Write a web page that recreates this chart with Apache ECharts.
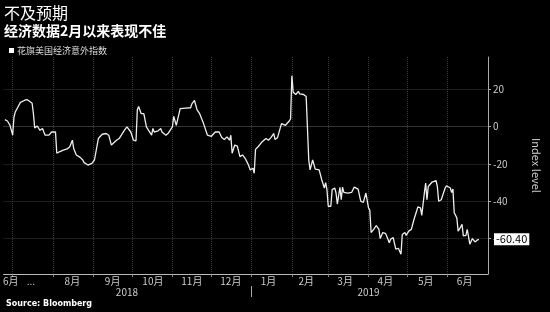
<!DOCTYPE html>
<html><head><meta charset="utf-8">
<script src="https://cdn.jsdelivr.net/npm/echarts@6/dist/echarts.min.js"></script>
<style>html,body{margin:0;padding:0;background:#000;}#c{width:550px;height:312px;}</style>
</head><body><div id="c"></div>
<script>
const titleText = '不及预期';
const subtitleText = '经济数据2月以来表现不佳';
const seriesName = '花旗美国经济意外指数';
const sourceText = 'Source: Bloomberg';
const axisName = 'Index level';

const dates = [
 '2018-06-25','2018-06-27','2018-06-29','2018-07-01','2018-07-02','2018-07-03','2018-07-05','2018-07-07','2018-07-10','2018-07-12',
 '2018-07-14','2018-07-16','2018-07-17','2018-07-18','2018-07-20','2018-07-21','2018-07-22','2018-07-24','2018-07-25','2018-07-26',
 '2018-07-27','2018-07-29','2018-07-31','2018-08-01','2018-08-03','2018-08-04','2018-08-06','2018-08-09','2018-08-12','2018-08-14',
 '2018-08-16','2018-08-17','2018-08-19','2018-08-22','2018-08-24','2018-08-25','2018-08-28','2018-08-31','2018-09-02','2018-09-03',
 '2018-09-05','2018-09-08','2018-09-11','2018-09-13','2018-09-15','2018-09-19','2018-09-21','2018-09-25','2018-09-27','2018-09-30',
 '2018-10-02','2018-10-04','2018-10-05','2018-10-06','2018-10-08','2018-10-10','2018-10-12','2018-10-13','2018-10-16','2018-10-17',
 '2018-10-18','2018-10-21','2018-10-23','2018-10-24','2018-10-27','2018-10-29','2018-11-01','2018-11-02','2018-11-04','2018-11-07',
 '2018-11-11','2018-11-15','2018-11-16','2018-11-18','2018-11-20','2018-11-22','2018-11-25','2018-11-28','2018-12-01','2018-12-04',
 '2018-12-07','2018-12-09','2018-12-11','2018-12-13','2018-12-15','2018-12-16','2018-12-17','2018-12-19','2018-12-21','2018-12-23',
 '2018-12-25','2018-12-27','2018-12-29','2018-12-31','2019-01-02','2019-01-03','2019-01-04','2019-01-06','2019-01-09','2019-01-12',
 '2019-01-14','2019-01-16','2019-01-18','2019-01-19','2019-01-21','2019-01-22','2019-01-24','2019-01-25','2019-01-27','2019-01-28',
 '2019-01-30','2019-01-31','2019-02-01','2019-02-02','2019-02-04','2019-02-06','2019-02-07','2019-02-10','2019-02-12','2019-02-13',
 '2019-02-14','2019-02-15','2019-02-17','2019-02-19','2019-02-22','2019-02-24','2019-02-26','2019-02-27','2019-02-28','2019-03-01',
 '2019-03-03','2019-03-04','2019-03-06','2019-03-07','2019-03-08','2019-03-10','2019-03-11','2019-03-12','2019-03-13','2019-03-16',
 '2019-03-19','2019-03-21','2019-03-24','2019-03-26','2019-03-28','2019-03-30','2019-04-01','2019-04-02','2019-04-03','2019-04-05',
 '2019-04-07','2019-04-09','2019-04-10','2019-04-12','2019-04-14','2019-04-15','2019-04-17','2019-04-18','2019-04-20','2019-04-22',
 '2019-04-24','2019-04-26','2019-04-27','2019-04-29','2019-04-30','2019-05-02','2019-05-04','2019-05-06','2019-05-08','2019-05-09',
 '2019-05-11','2019-05-12','2019-05-14','2019-05-15','2019-05-16','2019-05-17','2019-05-20','2019-05-23','2019-05-24','2019-05-25',
 '2019-05-27','2019-05-30','2019-05-31','2019-06-03','2019-06-04','2019-06-05','2019-06-06','2019-06-08','2019-06-09','2019-06-11',
 '2019-06-12','2019-06-13','2019-06-15','2019-06-16','2019-06-17','2019-06-18','2019-06-20','2019-06-22','2019-06-24','2019-06-25'
];
const values = [
 3.7, 3.0, 0.7, -4.6, 5.0, 7.8, 10.4, 13.0, 14.0, 14.5,
 13.6, 12.5, 6.9, -0.7, 0.3, -0.2, -2.0, -1.0, -2.9, -4.6,
 -4.1, -4.6, -2.9, -2.3, -2.9, -14.3, -13.5, -12.6, -12.0, -10.8,
 -7.3, -11.7, -15.2, -16.5, -17.9, -19.3, -20.6, -19.7, -17.9, -17.5,
 -6.4, -4.1, -3.7, -4.6, -9.9, -7.3, -6.4, -2.0, -0.2, -2.9,
 -7.3, -7.6, 9.0, 10.8, 6.9, 6.9, -0.2, -1.0, -4.6, -1.0,
 -2.9, -2.3, -1.0, -2.9, -4.6, -3.4, -0.2, 5.5, 0.7, 9.6,
 9.9, 10.1, 12.2, 14.0, 9.0, 6.9, 1.6, -4.6, -5.2, -2.9,
 -2.9, -5.8, -6.9, -5.5, -7.3, -4.6, -14.3, -9.9, -10.5, -16.1,
 -15.2, -17.0, -19.7, -23.2, -22.3, -25.0, -12.2, -10.8, -8.2, -6.4,
 -7.3, -5.8, -3.7, -6.9, -5.8, -6.0, 1.6, 2.4, 0.7, -0.2,
 3.0, 4.2, 27.3, 18.4, 17.2, 18.9, 17.5, 17.2, 16.1, 15.4,
 -17.9, -23.2, -17.9, -22.8, -23.2, -28.5, -32.9, -30.0, -33.8, -42.7,
 -42.7, -33.8, -32.9, -35.6, -41.5, -32.5, -39.2, -32.4, -35.3, -35.6,
 -35.3, -32.4, -33.5, -40.0, -40.6, -35.6, -43.6, -44.8, -56.8, -55.1,
 -53.0, -55.1, -60.0, -56.8, -57.2, -58.6, -62.2, -60.4, -59.5, -65.7,
 -65.2, -68.4, -57.8, -56.8, -58.3, -56.0, -55.1, -49.8, -45.4, -43.0,
 -43.6, -47.6, -35.6, -30.3, -39.2, -32.1, -29.7, -29.0, -32.1, -40.0,
 -39.2, -32.9, -31.7, -32.9, -35.3, -33.5, -46.2, -48.9, -56.0, -53.7,
 -52.4, -58.6, -58.3, -55.1, -59.0, -63.0, -60.0, -61.8, -60.7, -60.40
];

const yTicks = [-60, -40, -20, 0, 20];
const monthStarts = ['2018-07-01','2018-08-01','2018-09-01','2018-10-01','2018-11-01','2018-12-01',
  '2019-01-01','2019-02-01','2019-03-01','2019-04-01','2019-05-01','2019-06-01'];
const monthLabelDates = ['2018-06-29 12','2018-07-15','2018-08-16','2018-09-16','2018-10-17','2018-11-16','2018-12-16',
  '2019-01-14','2019-02-12','2019-03-14','2019-04-14','2019-05-15','2019-06-14'];
const monthLabels = ['6月','...','8月','9月','10月','11月','12月','1月','2月','3月','4月','5月','6月'];
const yearLabelDates = ['2018-09-27','2019-04-01'];
const yearLabels = ['2018','2019'];
const yearBreaks = ['2019-01-01'];
const xMin = '2018-06-24';
const xMax = '2019-07-02';

function ts(s) {
  const p = s.split(/[- ]/).map(Number);
  return new Date(p[0], p[1] - 1, p[2], p[3] || 0).getTime();
}
function lookup(list, labels) {
  const t = list.map(ts);
  return function (v) {
    for (let i = 0; i < t.length; i++) if (Math.abs(t[i] - v) < 3600000) return labels[i];
    return '';
  };
}

const data = dates.map((d, i) => [ts(d), values[i]]);
const last = values[values.length - 1];
const CJK = '"Noto Sans CJK SC", "Noto Sans", sans-serif';
const grid = '#3a3a3a';
const ySplitColors = yTicks.map(v => v === 0 ? '#6a6a6a' : grid);

const chart = echarts.init(document.getElementById('c'), null, {renderer: 'canvas'});
chart.setOption({
  backgroundColor: '#000',
  animation: false,
  textStyle: {fontFamily: CJK},
  title: [
    {text: titleText, left: 4, top: 5, padding: 0, textStyle: {color: '#fff', fontSize: 16, fontWeight: 'normal', fontFamily: CJK}},
    {text: subtitleText, left: 4, top: 24, padding: 0, textStyle: {color: '#fff', fontSize: 14, fontWeight: 'bold', fontFamily: CJK}},
    {text: sourceText, left: 6, top: 300, padding: 0, textStyle: {color: '#fff', fontSize: 8, fontWeight: 'bold', fontFamily: '"DejaVu Sans", sans-serif'}}
  ],
  legend: {
    left: 4, top: 41, icon: 'rect', itemWidth: 5, itemHeight: 5, itemGap: 2,
    textStyle: {color: '#ddd', fontSize: 9, fontFamily: CJK, padding: [0, 0, 0, -2]},
    data: [{name: seriesName, itemStyle: {color: '#fff'}}]
  },
  grid: {left: 3, right: 56, top: 57, bottom: 38},
  xAxis: [{
    type: 'value', min: ts(xMin), max: ts(xMax),
    axisLine: {onZero: false, lineStyle: {color: '#bbb', width: 1}},
    axisTick: {show: true, customValues: monthStarts.map(ts), length: 3, lineStyle: {color: '#888'}},
    splitLine: {show: true, lineStyle: {color: grid, type: 'dotted'}},
    axisLabel: {customValues: monthLabelDates.map(ts), formatter: lookup(monthLabelDates, monthLabels), color: '#ccc', fontSize: 10, margin: 2, fontFamily: CJK}
  }, {
    type: 'value', min: ts(xMin), max: ts(xMax), position: 'bottom', offset: 12,
    axisLine: {show: false, onZero: false},
    axisTick: {show: true, customValues: yearBreaks.map(ts), length: 11, lineStyle: {color: '#aaa'}},
    splitLine: {show: false},
    axisLabel: {customValues: yearLabelDates.map(ts), formatter: lookup(yearLabelDates, yearLabels), color: '#ccc', fontSize: 10, margin: 1, fontFamily: CJK}
  }],
  yAxis: {
    type: 'value', position: 'right', min: -79, max: 37.3,
    name: axisName, nameLocation: 'middle', nameRotate: -90, nameGap: 43,
    nameTextStyle: {color: '#ccc', fontSize: 11},
    axisLine: {show: true, lineStyle: {color: '#aaa'}},
    axisTick: {show: true, customValues: yTicks, length: 3, lineStyle: {color: '#aaa'}},
    axisLabel: {customValues: yTicks, color: '#ccc', fontSize: 10, margin: 5},
    splitLine: {show: true, lineStyle: {color: ySplitColors, type: 'dotted'}}
  },
  series: [{
    type: 'line', name: seriesName, data: data, xAxisIndex: 0,
    showSymbol: false, symbol: 'none',
    lineStyle: {color: '#eee', width: 1.3}, itemStyle: {color: '#fff'},
    markLine: {
      silent: true, symbol: 'none', z: 10,
      lineStyle: {color: 'rgba(0,0,0,0)', width: 0},
      data: [{yAxis: last}],
      label: {show: true, position: 'end', formatter: last.toFixed(2), backgroundColor: '#fff', color: '#000', fontSize: 11, padding: [1, 2, 0, 2], distance: 6}
    }
  }]
});
</script></body></html>
